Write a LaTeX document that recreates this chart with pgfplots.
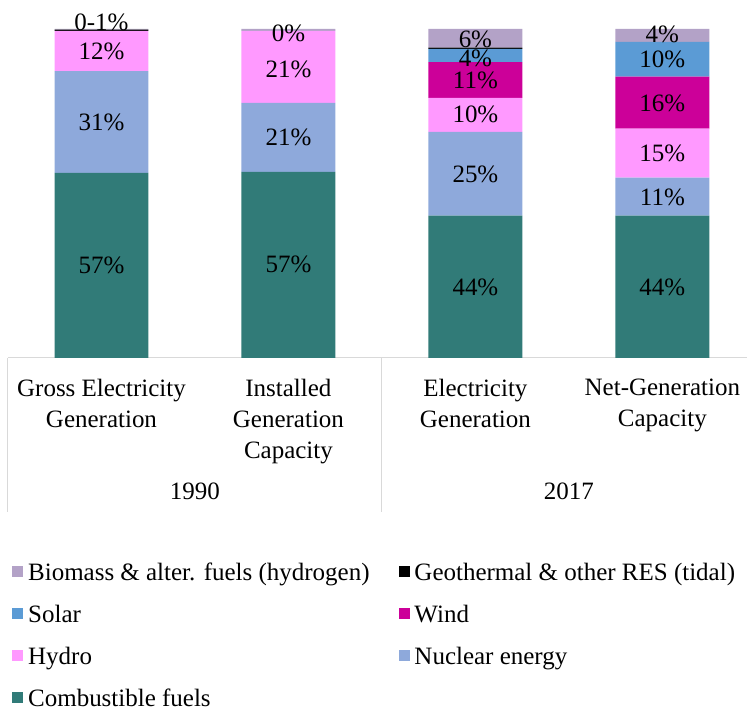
\documentclass[border=0pt]{standalone}
\usepackage{fontspec}
\setmainfont{Liberation Serif}
\usepackage{pgfplots}
\pgfplotsset{compat=1.18}

\definecolor{cfuel}{RGB}{49,123,120}
\definecolor{cnuc}{RGB}{142,169,219}
\definecolor{chydro}{RGB}{255,153,255}
\definecolor{cwind}{RGB}{204,0,153}
\definecolor{csolar}{RGB}{91,155,213}
\definecolor{cgeo}{RGB}{0,0,0}
\definecolor{cbio}{RGB}{179,162,199}
\definecolor{cgrid}{RGB}{217,217,217}
\newcommand{\fs}{\fontsize{25bp}{31bp}\selectfont}

\pgfplotsset{
  base/.style={
    scale only axis, width=739bp, height=358bp,
    xmin=-0.5, xmax=3.45, ymin=0, ymax=108.8,
    clip=false,
  },
}

\begin{document}
\begin{tikzpicture}
\begin{axis}[base, name=main,
  ybar stacked, bar width=94bp,
  axis x line*=bottom, hide y axis,
  x axis line style={draw=cgrid, line width=1bp},
  xtick={0,1,2,3},
  xticklabels={Gross Electricity\\Generation, Installed\\Generation\\Capacity,
               Electricity\\Generation, Net-Generation\\Capacity},
  xticklabel style={align=center, anchor=north, font=\fs, yshift=-18bp},
  major tick length=0pt,
  extra x ticks={0.5,2.5},
  extra x tick labels={1990,2017},
  extra x tick style={tick label style={yshift=-104bp}},
  legend style={font=\fs, draw=none, legend columns=2,
    at={(0,0)}, anchor=north west, xshift=4bp, yshift=-203bp,
    /tikz/every odd column/.append style={column sep=3bp},
    /tikz/every even column/.append style={column sep=27bp},
    row sep=19bp, inner sep=0pt},
  legend cell align=left,
  reverse legend,
  legend image code/.code={\fill[#1] (0bp,-5bp) rectangle (11bp,6bp);},
]
\addplot[fill=cfuel, draw=none] coordinates {(0,56.2) (1,56.5) (2,43.2) (3,43.2)};
\addlegendentry{Combustible fuels}
\addplot[fill=cnuc, draw=none] coordinates {(0,31.0) (1,21.0) (2,25.5) (3,11.6)};
\addlegendentry{Nuclear energy}
\addplot[fill=chydro, draw=none] coordinates {(0,12.2) (1,21.9) (2,10.3) (3,14.9)};
\addlegendentry{Hydro}
\addplot[fill=cwind, draw=none] coordinates {(0,0) (1,0) (2,10.9) (3,15.8)};
\addlegendentry{Wind}
\addplot[fill=csolar, draw=none] coordinates {(0,0) (1,0) (2,4.0) (3,10.6)};
\addlegendentry{Solar}
\addplot[fill=cgeo, draw=none] coordinates {(0,0.4) (1,0) (2,0.4) (3,0)};
\addlegendentry{Geothermal \& other RES (tidal)}
\addplot[fill=cbio, draw=none] coordinates {(0,0.2) (1,0.6) (2,5.7) (3,3.9)};
\addlegendentry{Biomass \& alter. fuels (hydrogen)}
\draw[cgrid, line width=1bp] (axis cs:-0.5,0) -- ++(0bp,-154bp);
\draw[cgrid, line width=1bp] (axis cs:1.5,0) -- ++(0bp,-154bp);
\end{axis}
\begin{axis}[base, hide axis]
\addplot[draw=none, mark=none, nodes near coords, point meta=explicit symbolic,
  every node near coord/.style={anchor=center, font=\fs, text=black}]
  coordinates {
  (0,28.1)[57\%] (0,71.7)[31\%] (0,93.3)[12\%] (0,102.1)[0-1\%]
  (1,28.3)[57\%] (1,66.9)[21\%] (1,87.8)[21\%] (1,98.8)[0\%]
  (2,21.3)[44\%] (2,55.9)[25\%] (2,73.9)[10\%] (2,84.5)[11\%] (2,90.9)[4\%] (2,96.7)[6\%]
  (3,21.3)[44\%] (3,48.9)[11\%] (3,62.3)[15\%] (3,77.5)[16\%] (3,90.6)[10\%] (3,98.2)[4\%]
  };
\end{axis}
\path (main.north west) ++(-8bp,0bp) coordinate (tl);
\path (main.south west) ++(0bp,-351bp) coordinate (bl);
\end{tikzpicture}
\end{document}
